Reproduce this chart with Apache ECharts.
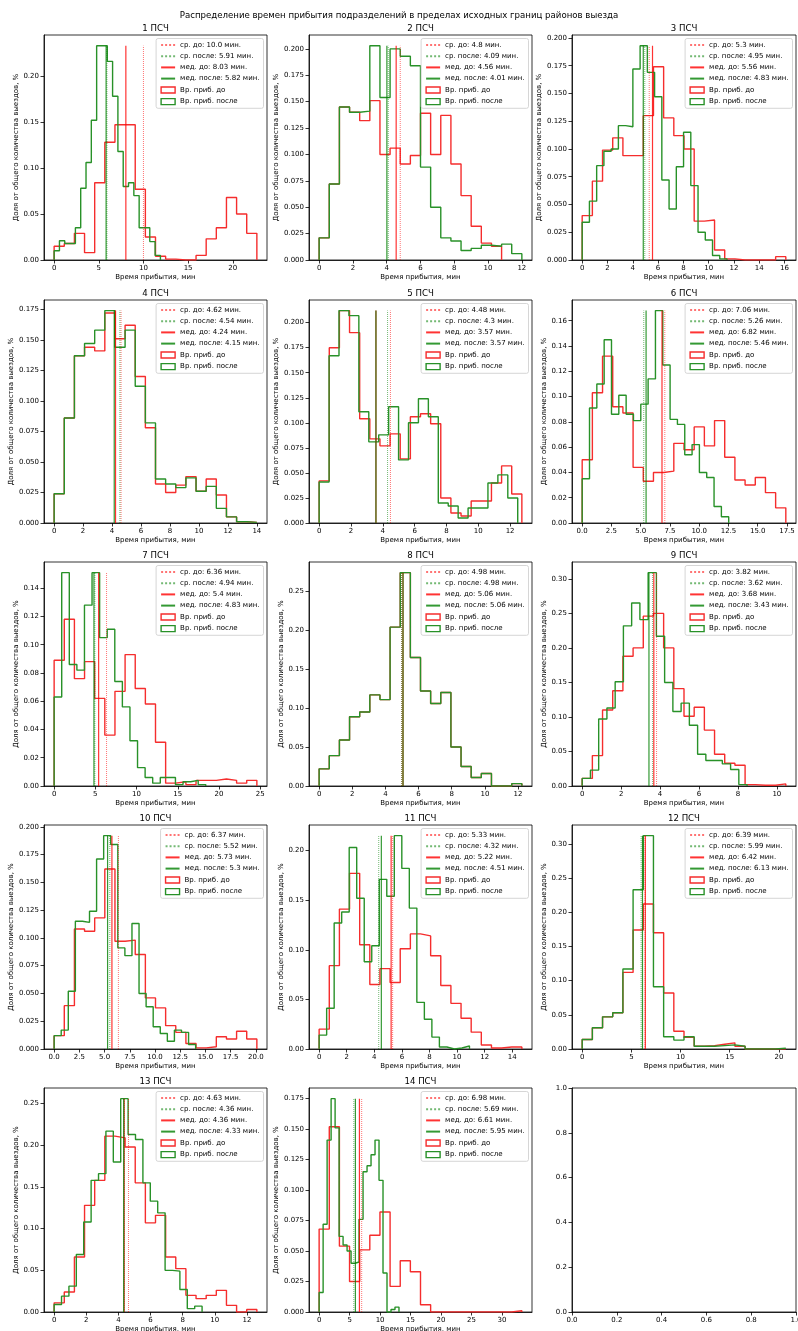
<!DOCTYPE html>
<html>
<head>
<meta charset="utf-8">
<script src="https://cdn.jsdelivr.net/npm/echarts@6/dist/echarts.min.js"></script>
<style>
html, body { margin: 0; padding: 0; background: #fff; }
#chart { width: 798px; height: 1331px; }
</style>
</head>
<body>
<div id="chart"></div>
<script>
// ---------- data ----------
const suptitle = "Распределение времен прибытия подразделений в пределах исходных границ районов выезда";
const titles = ["1 ПСЧ", "2 ПСЧ", "3 ПСЧ", "4 ПСЧ", "5 ПСЧ", "6 ПСЧ", "7 ПСЧ",
  "8 ПСЧ", "9 ПСЧ", "10 ПСЧ", "11 ПСЧ", "12 ПСЧ", "13 ПСЧ", "14 ПСЧ"];

// first and last bin edge of each histogram, min
const beforeRange = [[0, 22.7], [0, 10.8], [0, 16.1], [0, 14], [0, 12.74], [0, 17.4], [0, 24.6],
  [0, 12.23], [0, 10.46], [0, 20.1], [0, 14.7], [0, 20.7], [0, 12.62], [0, 33.26]];
const afterRange = [[0, 11.9], [0, 12], [0, 11.45], [0, 14], [0, 12.48], [0, 12.52], [0, 18.4],
  [0, 12.23], [0, 8.47], [0, 14.03], [0, 10.9], [0, 20.7], [0, 9.21], [0, 13.1]];

// bin heights (density)
const before1 = [0.015, 0.018, 0.029, 0.008, 0.084, 0.128, 0.147, 0.147, 0.077, 0.025, 0.004, 0.001, 0, 0, 0.005, 0.023, 0.035, 0.068, 0.050, 0.029];
const after1 = [0.010, 0.021, 0.018, 0.018, 0.035, 0.078, 0.106, 0.152, 0.233, 0.233, 0.216, 0.178, 0.118, 0.080, 0.084, 0.070, 0.035, 0.035, 0.020, 0.005];
const before2 = [0.021, 0.072, 0.145, 0.140, 0.132, 0.151, 0.100, 0.106, 0.091, 0.099, 0.139, 0.100, 0.137, 0.091, 0.061, 0.032, 0.016, 0.013];
const after2 = [0.021, 0.072, 0.145, 0.140, 0.141, 0.203, 0.154, 0.200, 0.193, 0.184, 0.088, 0.050, 0.021, 0.018, 0.009, 0.011, 0.014, 0.013, 0.015, 0.006];
const before3 = [0.040, 0.071, 0.099, 0.110, 0.094, 0.094, 0.130, 0.174, 0.128, 0.112, 0.100, 0.035, 0.036, 0.009, 0.001, 0, 0, 0, 0, 0.003];
const after3 = [0.034, 0.053, 0.085, 0.098, 0.100, 0.121, 0.120, 0.172, 0.193, 0.169, 0.147, 0.072, 0.046, 0.084, 0.115, 0.067, 0.025, 0.018, 0.004, 0.001];
const before4 = [0.024, 0.086, 0.137, 0.144, 0.141, 0.172, 0.151, 0.162, 0.120, 0.078, 0.032, 0.025, 0.031, 0.038, 0.026, 0.036, 0.023, 0.005, 0.001, 0.0005];
const after4 = [0.024, 0.086, 0.137, 0.147, 0.158, 0.174, 0.144, 0.158, 0.112, 0.082, 0.036, 0.032, 0.029, 0.037, 0.026, 0.030, 0.012, 0.005, 0.001, 0.0005];
const before5 = [0.042, 0.175, 0.212, 0.190, 0.104, 0.084, 0.077, 0.089, 0.064, 0.106, 0.109, 0.099, 0.025, 0.010, 0.007, 0.022, 0.022, 0.040, 0.057, 0.029];
const after5 = [0.041, 0.167, 0.212, 0.207, 0.111, 0.081, 0.088, 0.116, 0.063, 0.100, 0.124, 0.106, 0.020, 0.017, 0.005, 0.015, 0.015, 0.040, 0.048, 0.025];
const before6 = [0.050, 0.103, 0.132, 0.092, 0.087, 0.044, 0.033, 0.040, 0.041, 0.063, 0.058, 0.076, 0.061, 0.081, 0.052, 0.034, 0.030, 0.036, 0.024, 0.012];
const after6 = [0.035, 0.091, 0.110, 0.145, 0.086, 0.101, 0.086, 0.081, 0.094, 0.114, 0.168, 0.125, 0.082, 0.078, 0.054, 0.062, 0.040, 0.036, 0.013, 0.005];
const before7 = [0.089, 0.118, 0.076, 0.088, 0.062, 0.036, 0.067, 0.093, 0.069, 0.058, 0.031, 0.002, 0.003, 0.001, 0.004, 0.004, 0.005, 0.004, 0.002, 0.004];
const after7 = [0.063, 0.151, 0.086, 0.082, 0.128, 0.151, 0.105, 0.111, 0.074, 0.056, 0.032, 0.013, 0.006, 0.002, 0.006, 0.006, 0.001, 0.003, 0.004, 0.001];
const before8 = [0.022, 0.039, 0.059, 0.089, 0.095, 0.117, 0.111, 0.204, 0.274, 0.165, 0.122, 0.106, 0.120, 0.050, 0.025, 0.011, 0.016, 0, 0, 0.003];
const after8 = [0.022, 0.039, 0.059, 0.089, 0.095, 0.117, 0.111, 0.204, 0.274, 0.165, 0.122, 0.106, 0.120, 0.050, 0.025, 0.011, 0.016, 0, 0, 0.003];
const before9 = [0.011, 0.044, 0.110, 0.138, 0.188, 0.200, 0.246, 0.250, 0.200, 0.141, 0.101, 0.114, 0.081, 0.046, 0.033, 0.030, 0.002, 0.001, 0.001, 0.003];
const after9 = [0.011, 0.023, 0.097, 0.113, 0.151, 0.232, 0.265, 0.241, 0.309, 0.217, 0.150, 0.108, 0.120, 0.088, 0.046, 0.037, 0.037, 0.032, 0.024, 0.002];
const before10 = [0.012, 0.039, 0.108, 0.106, 0.118, 0.162, 0.097, 0.098, 0.085, 0.046, 0.037, 0.021, 0.015, 0.005, 0.001, 0.002, 0.011, 0.009, 0.016, 0.009];
const after10 = [0.012, 0.017, 0.052, 0.115, 0.114, 0.124, 0.171, 0.192, 0.184, 0.091, 0.084, 0.113, 0.050, 0.038, 0.020, 0.014, 0.007, 0.017, 0.015, 0.004];
const before11 = [0.020, 0.084, 0.141, 0.177, 0.105, 0.065, 0.081, 0.067, 0.101, 0.116, 0.114, 0.094, 0.064, 0.046, 0.031, 0.017, 0.004, 0.001, 0.002, 0.002];
const after11 = [0.014, 0.041, 0.127, 0.138, 0.203, 0.152, 0.088, 0.104, 0.171, 0.154, 0.215, 0.182, 0.142, 0.047, 0.030, 0.012, 0.002, 0, 0.001, 0.003];
const before12 = [0.014, 0.031, 0.047, 0.053, 0.112, 0.174, 0.212, 0.170, 0.082, 0.026, 0.017, 0.004, 0.005, 0.007, 0.009, 0.004, 0, 0, 0, 0];
const after12 = [0.014, 0.031, 0.047, 0.053, 0.117, 0.233, 0.312, 0.091, 0.018, 0.013, 0.018, 0.004, 0.004, 0.005, 0.006, 0.004, 0, 0, 0, 0.001];
const before13 = [0.011, 0.024, 0.066, 0.128, 0.158, 0.211, 0.209, 0.198, 0.155, 0.107, 0.116, 0.066, 0.052, 0.020, 0.016, 0.020, 0.026, 0.008, 0, 0.003];
const after13 = [0.009, 0.019, 0.031, 0.069, 0.108, 0.158, 0.166, 0.217, 0.180, 0.256, 0.213, 0.207, 0.155, 0.133, 0.119, 0.050, 0.049, 0.027, 0.004, 0.007];
const before14 = [0.068, 0.152, 0.054, 0.025, 0.051, 0.063, 0.082, 0.021, 0.042, 0.033, 0.006, 0, 0, 0, 0, 0, 0, 0, 0, 0.001];
const after14 = [0.016, 0.072, 0.141, 0.175, 0.151, 0.062, 0.055, 0.050, 0.040, 0.041, 0.076, 0.115, 0.120, 0.129, 0.141, 0.108, 0.032, 0, 0.002, 0.004];

const beforeHist = [before1, before2, before3, before4, before5, before6, before7, before8, before9, before10, before11, before12, before13, before14];
const afterHist = [after1, after2, after3, after4, after5, after6, after7, after8, after9, after10, after11, after12, after13, after14];

// mean / median, min
const meanBefore = [10.0, 4.8, 5.3, 4.62, 4.48, 7.06, 6.36, 4.98, 3.82, 6.37, 5.33, 6.39, 4.63, 6.98];
const meanAfter = [5.91, 4.09, 4.95, 4.54, 4.3, 5.26, 4.94, 4.98, 3.62, 5.52, 4.32, 5.99, 4.36, 5.69];
const medBefore = [8.03, 4.56, 5.56, 4.24, 3.57, 6.82, 5.4, 5.06, 3.68, 5.73, 5.22, 6.42, 4.36, 6.61];
const medAfter = [5.82, 4.01, 4.83, 4.15, 3.57, 5.46, 4.83, 5.06, 3.43, 5.3, 4.51, 6.13, 4.33, 5.95];

// tick labels
const xTickLabels = [
  ["0", "5", "10", "15", "20"],
  ["0", "2", "4", "6", "8", "10", "12"],
  ["0", "2", "4", "6", "8", "10", "12", "14", "16"],
  ["0", "2", "4", "6", "8", "10", "12", "14"],
  ["0", "2", "4", "6", "8", "10", "12"],
  ["0.0", "2.5", "5.0", "7.5", "10.0", "12.5", "15.0", "17.5"],
  ["0", "5", "10", "15", "20", "25"],
  ["0", "2", "4", "6", "8", "10", "12"],
  ["0", "2", "4", "6", "8", "10"],
  ["0.0", "2.5", "5.0", "7.5", "10.0", "12.5", "15.0", "17.5", "20.0"],
  ["0", "2", "4", "6", "8", "10", "12", "14"],
  ["0", "5", "10", "15", "20"],
  ["0", "2", "4", "6", "8", "10", "12"],
  ["0", "5", "10", "15", "20", "25", "30"],
  ["0.0", "0.2", "0.4", "0.6", "0.8", "1.0"]
];
const yTickLabels = [
  ["0.00", "0.05", "0.10", "0.15", "0.20"],
  ["0.000", "0.025", "0.050", "0.075", "0.100", "0.125", "0.150", "0.175", "0.200"],
  ["0.000", "0.025", "0.050", "0.075", "0.100", "0.125", "0.150", "0.175", "0.200"],
  ["0.000", "0.025", "0.050", "0.075", "0.100", "0.125", "0.150", "0.175"],
  ["0.000", "0.025", "0.050", "0.075", "0.100", "0.125", "0.150", "0.175", "0.200"],
  ["0.00", "0.02", "0.04", "0.06", "0.08", "0.10", "0.12", "0.14", "0.16"],
  ["0.00", "0.02", "0.04", "0.06", "0.08", "0.10", "0.12", "0.14"],
  ["0.00", "0.05", "0.10", "0.15", "0.20", "0.25"],
  ["0.00", "0.05", "0.10", "0.15", "0.20", "0.25", "0.30"],
  ["0.000", "0.025", "0.050", "0.075", "0.100", "0.125", "0.150", "0.175", "0.200"],
  ["0.00", "0.05", "0.10", "0.15", "0.20"],
  ["0.00", "0.05", "0.10", "0.15", "0.20", "0.25", "0.30"],
  ["0.00", "0.05", "0.10", "0.15", "0.20", "0.25"],
  ["0.000", "0.025", "0.050", "0.075", "0.100", "0.125", "0.150", "0.175"],
  ["0.0", "0.2", "0.4", "0.6", "0.8", "1.0"]
];

// ---------- layout ----------
const COLS = [[44, 267], [309, 532], [572, 796]];
const ROWS = [[35, 260], [300, 523], [562, 786], [825, 1049], [1088, 1312]];
const FONT = "DejaVu Sans";
const RED = "rgb(245,45,45)";
const GREEN = "rgb(40,145,40)";
const RED_LINE = "rgba(255,0,0,0.55)";
const GREEN_LINE = "rgba(0,128,0,0.55)";
const RED_MED = "rgba(255,0,0,0.8)";
const GREEN_MED = "rgba(0,128,0,0.8)";

function stepPoints(range, h) {
  const w = (range[1] - range[0]) / h.length;
  const pts = [[range[0], 0]];
  h.forEach(function (v, i) {
    pts.push([range[0] + i * w, v]);
    pts.push([range[0] + (i + 1) * w, v]);
  });
  pts.push([range[1], 0]);
  return pts;
}
function fmt(v) { return Number.isInteger(v) ? v.toFixed(1) : String(v); }
function ticks(labels) {
  const vals = labels.map(Number);
  return {
    vals: vals,
    formatter: function (v) {
      const i = vals.findIndex(function (t) { return Math.abs(t - v) < 1e-9; });
      return i < 0 ? "" : labels[i];
    }
  };
}

const grid = [], xAxis = [], yAxis = [], series = [], legend = [];
const graphic = [{
  type: "text", x: 399, y: 16,
  style: { text: suptitle, textAlign: "center", textVerticalAlign: "middle", font: "8.6px 'DejaVu Sans'", fill: "#000" }
}];

for (let i = 0; i < 15; i++) {
  const col = i % 3, row = Math.floor(i / 3);
  const gx = COLS[col], gy = ROWS[row];
  grid.push({
    left: gx[0], top: gy[0], width: gx[1] - gx[0], height: gy[1] - gy[0],
    show: true, borderColor: "#000", borderWidth: 0.8, backgroundColor: "transparent",
    containLabel: false, outerBoundsMode: "none"
  });

  let xmin = 0, xmax = 1, ymax = 1;
  if (i < 14) {
    const lo = Math.min(beforeRange[i][0], afterRange[i][0]);
    const hi = Math.max(beforeRange[i][1], afterRange[i][1]);
    xmin = lo - 0.05 * (hi - lo);
    xmax = hi + 0.05 * (hi - lo);
    const top = Math.max.apply(null, beforeHist[i].concat(afterHist[i]));
    ymax = top * 1.05;

    const lineBase = { type: "line", xAxisIndex: i, yAxisIndex: i, symbol: "none", silent: true, animation: false };
    series.push(Object.assign({}, lineBase, {
      name: "Вр. приб. до", data: stepPoints(beforeRange[i], beforeHist[i]),
      lineStyle: { color: RED, width: 1.4 }, itemStyle: { color: RED }, z: 2
    }));
    series.push(Object.assign({}, lineBase, {
      name: "Вр. приб. после", data: stepPoints(afterRange[i], afterHist[i]),
      lineStyle: { color: GREEN, width: 1.4 }, itemStyle: { color: GREEN }, z: 3
    }));
    const names = [
      "ср. до: " + fmt(meanBefore[i]) + " мин.",
      "ср. после: " + fmt(meanAfter[i]) + " мин.",
      "мед. до: " + fmt(medBefore[i]) + " мин.",
      "мед. после: " + fmt(medAfter[i]) + " мин."
    ];
    const vals = [meanBefore[i], meanAfter[i], medBefore[i], medAfter[i]];
    const cols = [RED_LINE, GREEN_LINE, RED_MED, GREEN_MED];
    const types = ["dotted", "dotted", "solid", "solid"];
    for (let k = 0; k < 4; k++) {
      series.push(Object.assign({}, lineBase, {
        name: names[k], data: [[vals[k], 0], [vals[k], top]],
        lineStyle: { color: cols[k], width: k < 2 ? 1 : 1.2, type: types[k] },
        itemStyle: { color: cols[k] }, z: 4
      }));
    }
    const lineItems = names.map(function (n) {
      return { name: n, itemStyle: { color: "rgba(0,0,0,0)", borderWidth: 0, opacity: 0 } };
    });
    legend.push({
      orient: "vertical", right: 798 - gx[1] + 3.5, top: gy[0] + 3.5,
      itemWidth: 14, itemHeight: 6, itemGap: 4.2, padding: [3, 4, 3, 4],
      textStyle: { fontSize: 7, color: "#000", fontFamily: FONT },
      backgroundColor: "rgba(255,255,255,0.8)", borderColor: "#cccccc", borderWidth: 0.8, borderRadius: 2,
      selectedMode: false, z: 6,
      data: lineItems.concat([
        { name: "Вр. приб. до", icon: "rect", itemStyle: { color: "rgba(0,0,0,0)", borderColor: RED, borderWidth: 1.4 } },
        { name: "Вр. приб. после", icon: "rect", itemStyle: { color: "rgba(0,0,0,0)", borderColor: GREEN, borderWidth: 1.4 } }
      ])
    });
    graphic.push({
      type: "text", x: (gx[0] + gx[1]) / 2, y: gy[0] - 6,
      style: { text: titles[i], textAlign: "center", textVerticalAlign: "middle", font: "8.6px 'DejaVu Sans'", fill: "#000" }
    });
  }

  const xt = ticks(xTickLabels[i]), yt = ticks(yTickLabels[i]);
  const longest = Math.max.apply(null, yTickLabels[i].map(function (s) { return s.length; }));
  xAxis.push({
    type: "value", gridIndex: i, min: xmin, max: xmax,
    axisLine: { show: true, onZero: false, lineStyle: { color: "#000", width: 0.8 } },
    axisTick: { show: true, length: 3.5, customValues: xt.vals, lineStyle: { color: "#000", width: 0.8 } },
    axisLabel: { customValues: xt.vals, formatter: xt.formatter, fontSize: 7, color: "#000", fontFamily: FONT, margin: 5 },
    splitLine: { show: false },
    name: i < 14 ? "Время прибытия, мин" : "", nameLocation: "middle", nameGap: 14,
    nameTextStyle: { fontSize: 7, color: "#000", fontFamily: FONT }
  });
  yAxis.push({
    type: "value", gridIndex: i, min: 0, max: ymax,
    axisLine: { show: true, onZero: false, lineStyle: { color: "#000", width: 0.8 } },
    axisTick: { show: true, length: 3.5, customValues: yt.vals, lineStyle: { color: "#000", width: 0.8 } },
    axisLabel: { customValues: yt.vals, formatter: yt.formatter, fontSize: 7, color: "#000", fontFamily: FONT, margin: 5 },
    splitLine: { show: false },
    name: i < 14 ? "Доля от общего количества выездов, %" : "", nameLocation: "middle",
    nameGap: longest >= 5 ? 27 : 24,
    nameTextStyle: { fontSize: 7, color: "#000", fontFamily: FONT }
  });
}

const chart = echarts.init(document.getElementById("chart"), null, { renderer: "canvas", width: 798, height: 1331 });
chart.setOption({
  animation: false,
  backgroundColor: "#fff",
  textStyle: { fontFamily: FONT },
  grid: grid,
  xAxis: xAxis,
  yAxis: yAxis,
  legend: legend,
  series: series,
  graphic: graphic
});
</script>
</body>
</html>
